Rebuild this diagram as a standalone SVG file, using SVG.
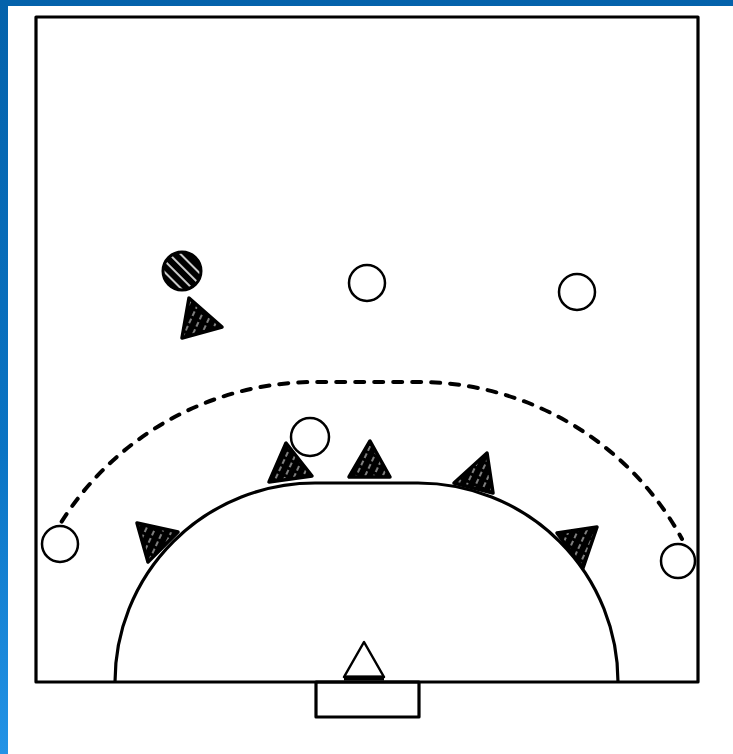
<svg xmlns="http://www.w3.org/2000/svg" width="733" height="754" viewBox="0 0 733 754">
<defs>
<linearGradient id="blue" x1="0" y1="0" x2="0" y2="1">
<stop offset="0" stop-color="#0462ab"/>
<stop offset="0.6" stop-color="#0a74c4"/>
<stop offset="1" stop-color="#2393e6"/>
</linearGradient>
<pattern id="hatch" patternUnits="userSpaceOnUse" width="8" height="8" patternTransform="rotate(25)">
<rect width="8" height="8" fill="#000"/>
<line x1="4" y1="0" x2="4" y2="8" stroke="#fff" stroke-width="1" stroke-dasharray="5 3"/>
</pattern>
<pattern id="hatchBall" patternUnits="userSpaceOnUse" width="8" height="8" patternTransform="rotate(-45)">
<rect width="8" height="8" fill="#000"/>
<line x1="4" y1="0" x2="4" y2="8" stroke="#fff" stroke-width="1.6"/>
</pattern>
</defs>
<style>
.line{fill:none;stroke:#000;stroke-width:3.2;stroke-linejoin:round}
.dash{fill:none;stroke:#000;stroke-width:4;stroke-dasharray:9 10;stroke-linecap:round}
.att{fill:#fff;stroke:#000;stroke-width:2.5}
.def{fill:url(#hatch);stroke:#000;stroke-width:3.5;stroke-linejoin:round}
</style>
<rect x="0" y="0" width="733" height="754" fill="url(#blue)"/>
<rect x="8" y="6" width="725" height="748" fill="#fff"/>
<g id="court">
<rect class="line" x="36" y="17" width="662" height="665"/>
<rect class="line" x="316" y="682" width="103" height="35" fill="#fff"/>
<path class="line" d="M115,682 A200,199 0 0 1 315,483 L418,483 A200,199 0 0 1 618,682"/>
</g>
<g id="connectors">
<path class="dash" d="M52,538 A300,300 0 0 1 315,382 L418,382 A300,300 0 0 1 682,539"/>
</g>
<g id="defenders">
<polygon id="def1" class="def" points="286,443 269,482 312,476"/>
<polygon id="def2" class="def" points="370,441 349,477 390,477"/>
<polygon id="def3" class="def" points="487,453 454,483 493,493"/>
<polygon id="def4" class="def" points="137,523 178,532 148,562"/>
<polygon id="def5" class="def" points="557,533 597,527 583,568"/>
<polygon id="def6" class="def" points="189,298 182,338 222,327"/>
</g>
<g id="goalkeeper">
<polygon points="364,642 344,677 384,677" fill="#fff" stroke="#000" stroke-width="2.5" stroke-linejoin="round"/>
<line x1="344" y1="678" x2="384" y2="678" stroke="#000" stroke-width="5"/>
</g>
<g id="attackers">
<circle id="att1" class="att" cx="367" cy="283" r="18"/>
<circle id="att2" class="att" cx="577" cy="292" r="18"/>
<circle id="att3" class="att" cx="310" cy="437" r="19"/>
<circle id="att4" class="att" cx="60" cy="544" r="18"/>
<circle id="att5" class="att" cx="678" cy="561" r="17"/>
</g>
<g id="ball">
<circle cx="182" cy="271" r="19" fill="url(#hatchBall)" stroke="#000" stroke-width="3"/>
</g>
</svg>
